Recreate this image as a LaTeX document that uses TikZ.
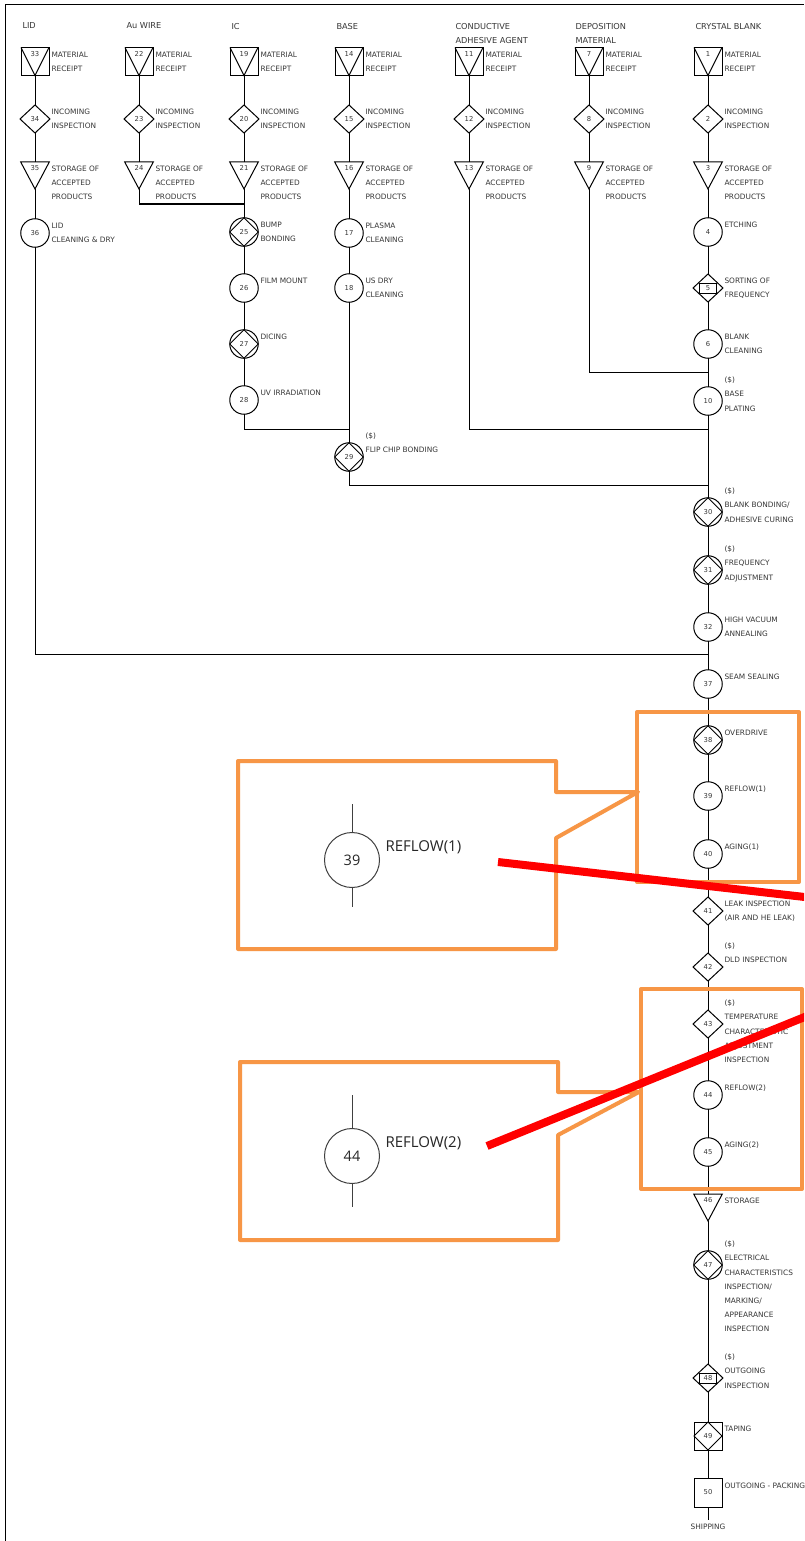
\documentclass[tikz,border=0pt]{standalone}
\usepackage{fontspec}
\setmainfont{DejaVu Sans}
\newfontfamily\callfont{Open Sans}
\usetikzlibrary{shapes.geometric}
\definecolor{txtgray}{RGB}{55,55,55}
\definecolor{callorange}{RGB}{247,150,70}
\definecolor{markred}{RGB}{255,0,0}
\definecolor{zoomgray}{RGB}{64,64,64}
\newcommand\mylab[3][-10.3]{\node[lbl] (l#2) at ([shift={(16,#1)}]n#2.center) {#3};}
\begin{document}
\begin{tikzpicture}[x=1pt,y=-1pt,line width=1pt,
  sym/.style={inner sep=0pt,outer sep=0pt,font=\fontsize{6.8}{8}\selectfont,text=txtgray},
  recv/.style={sym,rectangle,draw,minimum width=28pt,minimum height=28pt,
     label={[sym,anchor=center,yshift=-6.3pt]north:#1}},
  stor/.style={sym,rectangle,minimum width=28.6pt,minimum height=27pt,
     label={[sym,anchor=center,yshift=-6.3pt]north:#1}},
  insp/.style={sym,diamond,draw,minimum width=30pt,minimum height=28pt},
  oper/.style={sym,circle,draw,minimum size=28.5pt},
  boxed/.style={sym,rectangle,draw,minimum width=28pt,minimum height=28pt},
  lbl/.style={inner sep=0pt,anchor=north west,align=left,text=txtgray,font=\fontsize{7.4}{14.2}\selectfont},
  hdr/.style={inner sep=0pt,anchor=north west,align=left,text=txtgray,font=\fontsize{8.2}{14}\selectfont},
  callbox/.style={draw=callorange,line width=4pt,line join=round},
  marker/.style={draw=markred,line width=8pt},
  zoomline/.style={draw=zoomgray,line width=1pt},
  zoomcirc/.style={circle,draw=zoomgray,line width=1pt,minimum size=55pt,inner sep=0pt,outer sep=0pt,
     font=\callfont\fontsize{14.5}{16}\selectfont,text=black!85},
  zoomtext/.style={inner sep=0pt,anchor=base west,font=\callfont\fontsize{15}{18}\selectfont,text=black!85},
]
\path[use as bounding box] (0,0) rectangle (804,1541);
\clip (0,0) rectangle (804,1541);
\fill[white] (0,0) rectangle (804,1541);
% page frame
\draw (5,1541) -- (5,5) -- (804,5);

% headers
\node[hdr] (hL) at (22,22.5) {LID};
\node[hdr] (hA) at (126,22.5) {Au WIRE};
\node[hdr] (hI) at (231,22.5) {IC};
\node[hdr] (hB) at (336,22.5) {BASE};
\node[hdr] (hC) at (455,22.5) {CONDUCTIVE\\ADHESIVE AGENT};
\node[hdr] (hD) at (575,22.5) {DEPOSITION\\MATERIAL};
\node[hdr] (hX) at (695,22.5) {CRYSTAL BLANK};

% material receipt
\node[recv=33] (n33) at (35,61.5) {};
\node[recv=22] (n22) at (139,61.5) {};
\node[recv=19] (n19) at (244,61.5) {};
\node[recv=14] (n14) at (349,61.5) {};
\node[recv=11] (n11) at (469,61.5) {};
\node[recv=7] (n7) at (589,61.5) {};
\node[recv=1] (n1) at (708,61.5) {};
% incoming inspection
\node[insp] (n34) at (35,119) {34};
\node[insp] (n23) at (139,119) {23};
\node[insp] (n20) at (244,119) {20};
\node[insp] (n15) at (349,119) {15};
\node[insp] (n12) at (469,119) {12};
\node[insp] (n8) at (589,119) {8};
\node[insp] (n2) at (708,119) {2};
% storage
\node[stor=35] (n35) at (35,175.5) {};
\node[stor=24] (n24) at (139,175.5) {};
\node[stor=21] (n21) at (244,175.5) {};
\node[stor=16] (n16) at (349,175.5) {};
\node[stor=13] (n13) at (469,175.5) {};
\node[stor=9] (n9) at (589,175.5) {};
\node[stor=3] (n3) at (708,175.5) {};

% LID
\node[oper] (n36) at (35,233) {36};
% IC
\node[oper] (n25) at (244,232) {25};
\node[oper] (n26) at (244,288) {26};
\node[oper] (n27) at (244,344) {27};
\node[oper] (n28) at (244,400) {28};
% BASE
\node[oper] (n17) at (349,233) {17};
\node[oper] (n18) at (349,288) {18};
\node[oper] (n29) at (349,457) {29};
% CRYSTAL BLANK
\node[oper] (n4) at (708,232) {4};
\node[insp] (n5) at (708,288) {5};
\node[oper] (n6) at (708,344) {6};
\node[oper] (n10) at (708,401) {10};
\node[oper] (n30) at (708,512) {30};
\node[oper] (n31) at (708,570) {31};
\node[oper] (n32) at (708,627) {32};
\node[oper] (n37) at (708,684) {37};
\node[oper] (n38) at (708,740) {38};
\node[oper] (n39) at (708,796) {39};
\node[oper] (n40) at (708,854) {40};
\node[insp] (n41) at (708,911) {41};
\node[insp] (n42) at (708,967) {42};
\node[insp] (n43) at (708,1024) {43};
\node[oper] (n44) at (708,1095) {44};
\node[oper] (n45) at (708,1152) {45};
\node[stor=46] (n46) at (708,1207.5) {};
\node[oper] (n47) at (708,1265) {47};
\node[insp] (n48) at (708,1378) {48};
\node[boxed] (n49) at (708,1436) {49};
\node[boxed,minimum height=29pt] (n50) at (708,1492.5) {50};
\node[sym,font=\fontsize{7.4}{9}\selectfont,inner sep=3.5pt] (ship) at (708,1526.5) {SHIPPING};

% symbol details
\foreach \n in {n33,n22,n19,n14,n11,n7,n1}
  \draw (\n.north west) -- (\n.south) -- (\n.north east);
\foreach \n in {n35,n24,n21,n16,n13,n9,n3,n46}
  \draw (\n.north west) -- (\n.north east) -- (\n.south) -- cycle;
\foreach \n in {n25,n27,n29,n30,n31,n38,n47,n49}
  \draw (\n.north) -- (\n.east) -- (\n.south) -- (\n.west) -- cycle;
\foreach \n in {n5,n48}
  \draw ([shift={(-8.5,-5)}]\n.center) rectangle ([shift={(8.5,5)}]\n.center);

% junctions
\coordinate (jA) at (244,204);
\coordinate (jI) at (349,429);
\coordinate (jD) at (708,372);
\coordinate (jC) at (708,429);
\coordinate (jB) at (708,485);
\coordinate (jL) at (708,654);

% connectors
\foreach \a/\b in {33/34,34/35,35/36, 22/23,23/24, 19/20,20/21,21/25,25/26,26/27,27/28,
   14/15,15/16,16/17,17/18,18/29, 11/12,12/13, 7/8,8/9,
   1/2,2/3,3/4,4/5,5/6,6/10,10/30,30/31,31/32,32/37,37/38,38/39,39/40,40/41,41/42,42/43,
   43/44,44/45,45/46,46/47,47/48,48/49,49/50}
  \draw (n\a.south) -- (n\b.north);
\draw (n50.south) -- (ship.north);
\draw (n24.south) |- (jA);
\draw (n28.south) |- (jI);
\draw (n9.south) |- (jD);
\draw (n13.south) |- (jC);
\draw (n29.south) |- (jB);
\draw (n36.south) |- (jL);

% labels
\foreach \n in {33,22,19,14,11,7,1} {\mylab{\n}{MATERIAL\\RECEIPT}}
\foreach \n in {34,23,20,15,12,8,2} {\mylab{\n}{INCOMING\\INSPECTION}}
\foreach \n in {35,24,21,16,13,9,3} {\mylab{\n}{STORAGE OF\\ACCEPTED\\PRODUCTS}}
\mylab{36}{LID\\CLEANING \& DRY}
\mylab{25}{BUMP\\BONDING}
\mylab{26}{FILM MOUNT}
\mylab{27}{DICING}
\mylab{28}{UV IRRADIATION}
\mylab{17}{PLASMA\\CLEANING}
\mylab{18}{US DRY\\CLEANING}
\mylab[-24.5]{29}{(\$)\\FLIP CHIP BONDING}
\mylab{4}{ETCHING}
\mylab{5}{SORTING OF\\FREQUENCY}
\mylab{6}{BLANK\\CLEANING}
\mylab[-24.5]{10}{(\$)\\BASE\\PLATING}
\mylab[-24.5]{30}{(\$)\\BLANK BONDING/\\ADHESIVE CURING}
\mylab[-24.5]{31}{(\$)\\FREQUENCY\\ADJUSTMENT}
\mylab{32}{HIGH VACUUM\\ANNEALING}
\mylab{37}{SEAM SEALING}
\mylab{38}{OVERDRIVE}
\mylab{39}{REFLOW(1)}
\mylab{40}{AGING(1)}
\mylab{41}{LEAK INSPECTION\\(AIR AND HE LEAK)}
\mylab[-24.5]{42}{(\$)\\DLD INSPECTION}
\mylab[-24.5]{43}{(\$)\\TEMPERATURE\\CHARACTERISTIC\\ADJUSTMENT\\INSPECTION}
\mylab{44}{REFLOW(2)}
\mylab{45}{AGING(2)}
\mylab{46}{STORAGE}
\mylab[-24.5]{47}{(\$)\\ELECTRICAL\\CHARACTERISTICS\\INSPECTION/\\MARKING/\\APPEARANCE\\INSPECTION}
\mylab[-24.5]{48}{(\$)\\OUTGOING\\INSPECTION}
\mylab{49}{TAPING}
\mylab{50}{OUTGOING - PACKING}

% highlight boxes
\draw[callbox] (637,712) rectangle (799,882);
\draw[callbox] (641,989) rectangle (802,1189);
% callouts
\draw[callbox] (238,761) -- (556,761) -- (556,792) -- (638,792) -- (556,838) -- (556,949) -- (238,949) -- cycle;
\draw[callbox] (240,1062) -- (558,1062) -- (558,1092) -- (639,1092) -- (558,1135) -- (558,1240) -- (240,1240) -- cycle;
% zoomed symbols
\node[zoomcirc] (z39) at (352,860) {39};
\coordinate (z39t) at (352,804);
\coordinate (z39b) at (352,907);
\draw[zoomline] (z39t) -- (z39.north) (z39.south) -- (z39b);
\node[zoomtext] (zt39) at (385,851) {REFLOW(1)};
\node[zoomcirc] (z44) at (352,1156) {44};
\coordinate (z44t) at (352,1095);
\coordinate (z44b) at (352,1207);
\draw[zoomline] (z44t) -- (z44.north) (z44.south) -- (z44b);
\node[zoomtext] (zt44) at (385,1147) {REFLOW(2)};
% red markers
\draw[marker] (498,862) -- (810,897.6);
\draw[marker] (487,1146) -- (810,1014.8);
\end{tikzpicture}
\end{document}
